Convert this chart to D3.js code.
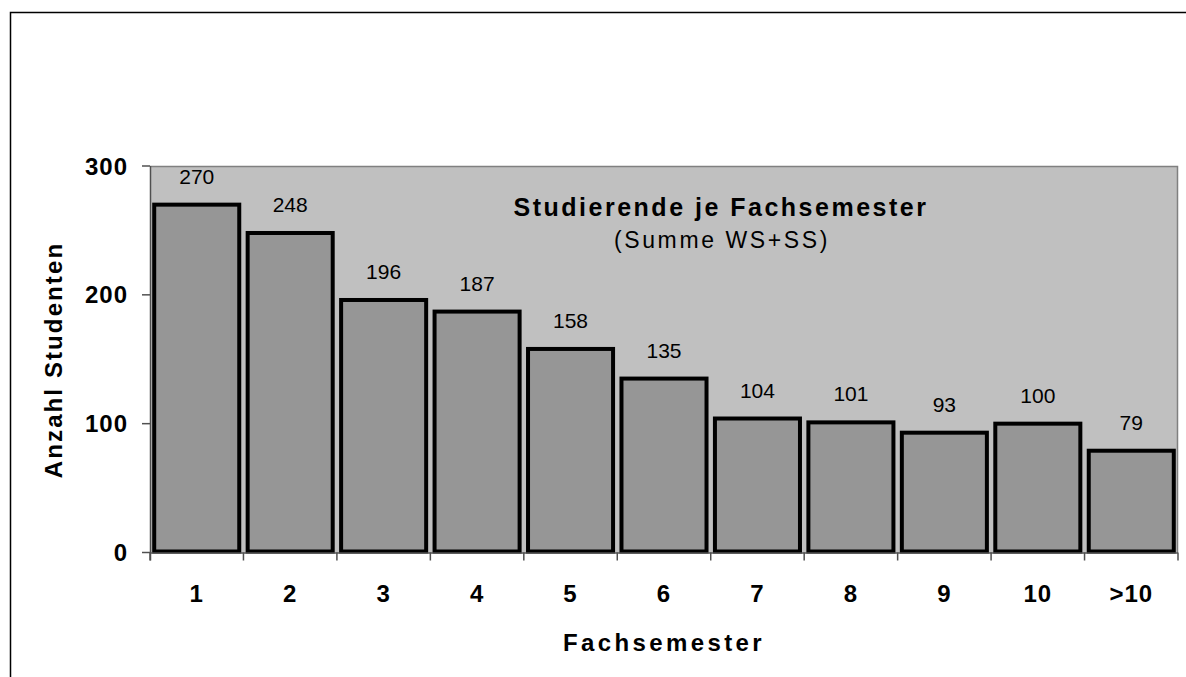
<!DOCTYPE html>
<html>
<head>
<meta charset="utf-8">
<script src="https://cdn.jsdelivr.net/npm/d3@7"></script>
<style>
  html, body { margin: 0; padding: 0; background: #fff; }
  svg { display: block; font-family: Arial, "Liberation Sans", sans-serif; }
</style>
</head>
<body>
<svg id="chart" width="1186" height="677"></svg>
<script>
// Students per semester of study (sum of winter + summer term)
const categories = ["1", "2", "3", "4", "5", "6", "7", "8", "9", "10", ">10"];
const students = [270, 248, 196, 187, 158, 135, 104, 101, 93, 100, 79];
const yTicks = [0, 100, 200, 300];

const svg = d3.select("#chart");
const plot = { left: 150, right: 1178, top: 166, bottom: 552.5 };

// outer frame (top and left edges visible)
svg.append("path")
  .attr("d", "M10.5,677 L10.5,12.5 L1186,12.5")
  .attr("fill", "none").attr("stroke", "#000").attr("stroke-width", 1.5);

const x = d3.scaleBand()
  .domain(categories)
  .range([plot.left, plot.right])
  .paddingInner(0.09)
  .paddingOuter(0.045);

const y = d3.scaleLinear().domain([0, 300]).range([plot.bottom, plot.top]);

// category boundaries for tick marks
const edge = d3.scaleLinear().domain([0, categories.length]).range([plot.left, plot.right]);

// plot background
svg.append("rect")
  .attr("x", plot.left).attr("y", plot.top)
  .attr("width", plot.right - plot.left).attr("height", plot.bottom - plot.top)
  .attr("fill", "#c0c0c0");
svg.append("path")
  .attr("d", `M${plot.left},${plot.top + 0.5} L${plot.right - 0.5},${plot.top + 0.5} L${plot.right - 0.5},${plot.bottom}`)
  .attr("fill", "none").attr("stroke", "#808080").attr("stroke-width", 1.5);

// title inside plot
svg.append("text")
  .attr("x", 721).attr("y", 216)
  .attr("text-anchor", "middle")
  .attr("font-size", 25).attr("font-weight", "bold")
  .attr("letter-spacing", 2.5)
  .text("Studierende je Fachsemester");
svg.append("text")
  .attr("x", 722).attr("y", 248)
  .attr("text-anchor", "middle")
  .attr("font-size", 23)
  .attr("letter-spacing", 2.6)
  .text("(Summe WS+SS)");

// bars
svg.append("g").selectAll("rect")
  .data(students)
  .join("rect")
  .attr("x", (d, i) => x(categories[i]))
  .attr("y", d => y(d))
  .attr("width", x.bandwidth())
  .attr("height", d => y(0) - y(d) - 1)
  .attr("fill", "#969696")
  .attr("stroke", "#000")
  .attr("stroke-width", 4);

// value labels
svg.append("g").selectAll("text")
  .data(students)
  .join("text")
  .attr("x", (d, i) => x(categories[i]) + x.bandwidth() / 2)
  .attr("y", d => y(d) - 21)
  .attr("text-anchor", "middle")
  .attr("font-size", 21)
  .text(d => d);

// y axis
const yAxis = svg.append("g");
yAxis.append("line")
  .attr("x1", plot.left + 0.5).attr("x2", plot.left + 0.5)
  .attr("y1", plot.top).attr("y2", plot.bottom + 8)
  .attr("stroke", "#505050").attr("stroke-width", 1.5);
yAxis.selectAll("line.tick")
  .data(yTicks)
  .join("line").attr("class", "tick")
  .attr("x1", plot.left - 8).attr("x2", plot.left)
  .attr("y1", d => y(d)).attr("y2", d => y(d))
  .attr("stroke", "#505050").attr("stroke-width", 1.5);
yAxis.selectAll("text")
  .data(yTicks)
  .join("text")
  .attr("x", 128).attr("y", d => y(d))
  .attr("dy", "0.36em")
  .attr("text-anchor", "end")
  .attr("font-size", 24).attr("font-weight", "bold")
  .attr("letter-spacing", 1)
  .text(d => d);

// x axis
const xAxis = svg.append("g");
xAxis.append("line")
  .attr("x1", plot.left).attr("x2", plot.right)
  .attr("y1", plot.bottom + 0.5).attr("y2", plot.bottom + 0.5)
  .attr("stroke", "#505050").attr("stroke-width", 1.5);
xAxis.selectAll("line.tick")
  .data(d3.range(categories.length + 1))
  .join("line").attr("class", "tick")
  .attr("x1", d => edge(d)).attr("x2", d => edge(d))
  .attr("y1", plot.bottom).attr("y2", plot.bottom + 8)
  .attr("stroke", "#505050").attr("stroke-width", 1.5);
xAxis.selectAll("text")
  .data(categories)
  .join("text")
  .attr("x", d => x(d) + x.bandwidth() / 2)
  .attr("y", 602)
  .attr("text-anchor", "middle")
  .attr("font-size", 24).attr("font-weight", "bold")
  .attr("letter-spacing", 1)
  .text(d => d);

// axis titles
svg.append("text")
  .attr("x", 664).attr("y", 651)
  .attr("text-anchor", "middle")
  .attr("font-size", 24).attr("font-weight", "bold")
  .attr("letter-spacing", 3.4)
  .text("Fachsemester");
svg.append("text")
  .attr("transform", "translate(62,360) rotate(-90)")
  .attr("text-anchor", "middle")
  .attr("font-size", 24).attr("font-weight", "bold")
  .attr("letter-spacing", 2.1)
  .text("Anzahl Studenten");
</script>
</body>
</html>
